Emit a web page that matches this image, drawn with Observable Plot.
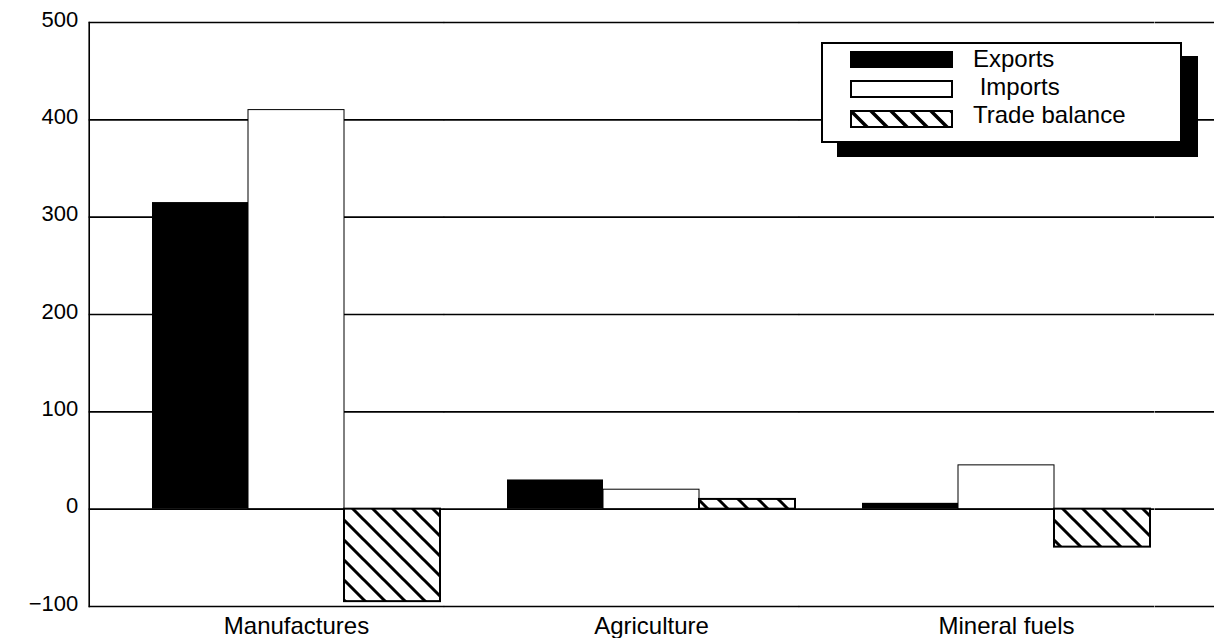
<!DOCTYPE html>
<html>
<head>
<meta charset="utf-8">
<script src="https://cdn.jsdelivr.net/npm/d3@7"></script>
<script src="https://cdn.jsdelivr.net/npm/@observablehq/plot@0.6"></script>
<style>
  body { margin: 0; background: #fff; }
  #wrap { position: relative; width: 1214px; height: 638px; font-family: "Liberation Sans", Arial, sans-serif; color: #000; }
  #legend { position: absolute; left: 821px; top: 42px; width: 357px; height: 97px; border: 2px solid #000; background: #fff; box-shadow: 16px 14px 0 #000; }
  .sw { position: absolute; left: 27px; }
  .lbl { position: absolute; font-size: 24px; line-height: 24px; white-space: pre; }
</style>
</head>
<body>
<div id="wrap"></div>
<script>
// ---- data ----
const categories = ["Manufactures", "Agriculture", "Mineral fuels"];
const seriesNames = ["Exports", "Imports", "Trade balance"];
const exportsVals = [315, 30, 6];
const importsVals = [410, 20, 45];
const balanceVals = [-95, 10, -39];
const yTicks = [-100, 0, 100, 200, 300, 400, 500];

const rowsFor = (name, vals) => categories.map((c, i) => ({category: c, series: name, value: vals[i]}));
const exportsRows = rowsFor("Exports", exportsVals);
const importsRows = rowsFor("Imports", importsVals);
const balanceRows = rowsFor("Trade balance", balanceVals);

// band-scale geometry of the facets, used to stretch the grid across the gaps
const W = 1214, ML = 87, PI = 0.184, PO = 0.175;
const step = (W - ML) / (categories.length - PI + 2 * PO);
const outer = PO * step;
const inner = PI * step;
const band = (1 - PI) * step;

const chart = Plot.plot({
  width: W,
  height: 638,
  marginLeft: ML,
  marginRight: 0,
  marginTop: 22,
  marginBottom: 32,
  style: {fontFamily: "Liberation Sans, Arial, sans-serif", fontSize: "22px", background: "#fff", color: "#000", overflow: "visible"},
  fx: {domain: categories, paddingInner: PI, paddingOuter: PO, label: null, axis: null},
  x: {domain: seriesNames, padding: 0, axis: null},
  y: {domain: [-100, 500], label: null, axis: null},
  marks: [
    Plot.ruleY(yTicks, {stroke: "#000", strokeWidth: 1.6, insetLeft: -outer, insetRight: -(inner - outer)}),
    Plot.ruleY(yTicks, {facetAnchor: "right", stroke: "#000", strokeWidth: 1.6, insetLeft: band + (inner - outer), insetRight: -outer - 2}),
    Plot.frame({anchor: "left", facetAnchor: "left", insetLeft: -outer, stroke: "#000", strokeWidth: 1.6}),
    Plot.barY(exportsRows, {fx: "category", x: "series", y: "value", fill: "#000"}),
    Plot.barY(importsRows, {fx: "category", x: "series", y: "value", fill: "#fff", stroke: "#000", strokeWidth: 1}),
    Plot.barY(balanceRows, {fx: "category", x: "series", y: "value", fill: "url(#hatch)", stroke: "#000", strokeWidth: 2}),
    Plot.axisY({ticks: yTicks, tickSize: 0, tickPadding: 11, dx: -outer, dy: -3, fontSize: 22, label: null}),
    Plot.axisFx({anchor: "bottom", tickSize: 0, tickPadding: 10, fontSize: 24, label: null})
  ]
});

d3.select(chart).insert("defs", ":first-child").html(
  `<pattern id="hatch" patternUnits="userSpaceOnUse" width="20" height="20">
     <rect width="20" height="20" fill="#fff"/>
     <path d="M-5,-5L25,25M-5,15L5,25M15,-5L25,5" stroke="#000" stroke-width="3"/>
   </pattern>`
);

const wrap = document.getElementById("wrap");
wrap.appendChild(chart);

// ---- legend ----
const legend = document.createElement("div");
legend.id = "legend";
legend.innerHTML = `
  <div class="sw" style="top:7px;width:103px;height:17px;background:#000"></div>
  <div class="sw" style="top:36px;width:99px;height:14px;border:2px solid #000;background:#fff"></div>
  <svg class="sw" style="top:66px" width="103" height="18">
    <defs><pattern id="hatchL" patternUnits="userSpaceOnUse" width="20" height="20">
      <rect width="20" height="20" fill="#fff"/>
      <path d="M-5,-5L25,25M-5,15L5,25M15,-5L25,5" stroke="#000" stroke-width="3.5"/>
    </pattern></defs>
    <rect x="1" y="1" width="101" height="16" fill="url(#hatchL)" stroke="#000" stroke-width="2"/>
  </svg>
  <span class="lbl" style="left:150px;top:3px">${seriesNames[0]}</span>
  <span class="lbl" style="left:150px;top:31px"> ${seriesNames[1]}</span>
  <span class="lbl" style="left:150px;top:59px">${seriesNames[2]}</span>
`;
wrap.appendChild(legend);
</script>
</body>
</html>
